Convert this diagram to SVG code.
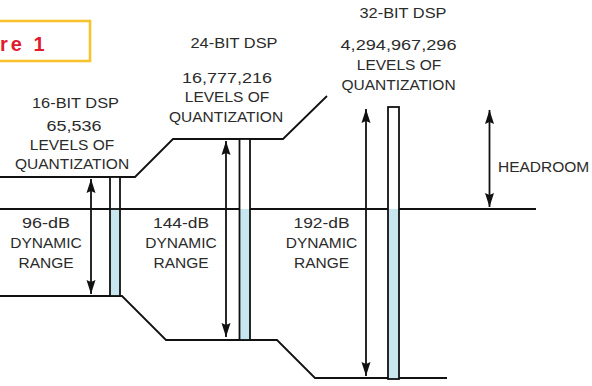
<svg xmlns="http://www.w3.org/2000/svg" width="592" height="386" viewBox="0 0 592 386">
<style>
.t{font-family:"Liberation Sans",Arial,sans-serif;font-size:15.5px;fill:#2b2b2b;text-anchor:middle}
.ln{stroke:#111;stroke-width:1.8;fill:none}
.ar{stroke:#111;stroke-width:1.8;fill:none;marker-start:url(#ah);marker-end:url(#ah)}
.bar{stroke:#111;stroke-width:1.8;fill:none}
.blue{fill:#c7e6ef}
.white{fill:#fff}
</style>
<defs>
<marker id="ah" markerUnits="userSpaceOnUse" markerWidth="15" markerHeight="10" refX="14" refY="5" orient="auto-start-reverse">
<path d="M0,0.5 L14,5 L0,9.5 L2,5 z" fill="#111"/>
</marker>
</defs>
<rect width="592" height="386" fill="#fff"/>
<g id="figure-label">
<rect x="-10" y="21" width="100" height="40" fill="#fff" stroke="#f7c430" stroke-width="2.6"/>
<text x="0" y="50.5" font-family="Liberation Sans,Arial,sans-serif" font-weight="bold" font-size="20" fill="#e11b2e" letter-spacing="3">re 1</text>
</g>
<g id="connectors">
<polyline class="ln" points="0,177 135,177 173,139 283,139 327,96"/>
<line class="ln" x1="0" y1="209" x2="536" y2="209"/>
<polyline class="ln" points="0,296 122,296 166,340 277,340 315,378 447,378"/>
<line class="ar" x1="91" y1="179" x2="91" y2="294"/>
<line class="ar" x1="226" y1="141" x2="226" y2="337"/>
<line class="ar" x1="366" y1="109" x2="366" y2="376"/>
<line class="ar" x1="489.5" y1="110" x2="489.5" y2="207"/>
</g>
<g id="bar-16">
<rect class="white" x="110" y="177" width="10" height="32"/>
<rect class="blue" x="110" y="209" width="10" height="87"/>
<rect class="bar" x="110" y="177" width="10" height="119"/>
<line class="ln" x1="110" y1="209" x2="120" y2="209"/>
</g>
<g id="bar-24">
<rect class="white" x="239.5" y="139" width="10.5" height="70"/>
<rect class="blue" x="239.5" y="209" width="10.5" height="131"/>
<rect class="bar" x="239.5" y="139" width="10.5" height="201"/>
</g>
<g id="bar-32">
<rect class="white" x="388" y="107" width="11" height="102"/>
<rect class="blue" x="388" y="209" width="11" height="170"/>
<rect class="bar" x="388" y="107" width="11" height="272"/>
</g>
<g id="label-16">
<text class="t" x="75.5" y="107.5" textLength="87" lengthAdjust="spacingAndGlyphs">16-BIT DSP</text>
<text class="t" x="74" y="130.5" textLength="55" lengthAdjust="spacingAndGlyphs">65,536</text>
<text class="t" x="72" y="150">LEVELS OF</text>
<text class="t" x="72" y="169">QUANTIZATION</text>
</g>
<g id="label-24">
<text class="t" x="234" y="47.5" textLength="87" lengthAdjust="spacingAndGlyphs">24-BIT DSP</text>
<text class="t" x="227" y="83" textLength="90" lengthAdjust="spacingAndGlyphs">16,777,216</text>
<text class="t" x="227" y="101.5">LEVELS OF</text>
<text class="t" x="226" y="121.5">QUANTIZATION</text>
</g>
<g id="label-32">
<text class="t" x="403" y="18" textLength="87" lengthAdjust="spacingAndGlyphs">32-BIT DSP</text>
<text class="t" x="398.5" y="50" textLength="116" lengthAdjust="spacingAndGlyphs">4,294,967,296</text>
<text class="t" x="399" y="69.5">LEVELS OF</text>
<text class="t" x="398.5" y="90">QUANTIZATION</text>
</g>
<g id="range-96">
<text class="t" x="46" y="228" textLength="48" lengthAdjust="spacingAndGlyphs">96-dB</text>
<text class="t" x="46" y="248">DYNAMIC</text>
<text class="t" x="46" y="268">RANGE</text>
</g>
<g id="range-144">
<text class="t" x="181" y="228" textLength="56" lengthAdjust="spacingAndGlyphs">144-dB</text>
<text class="t" x="181" y="248">DYNAMIC</text>
<text class="t" x="181" y="268">RANGE</text>
</g>
<g id="range-192">
<text class="t" x="321.5" y="228" textLength="56" lengthAdjust="spacingAndGlyphs">192-dB</text>
<text class="t" x="321.5" y="248">DYNAMIC</text>
<text class="t" x="321.5" y="268">RANGE</text>
</g>
<g id="headroom">
<text class="t" x="498" y="172" style="text-anchor:start">HEADROOM</text>
</g>
</svg>
